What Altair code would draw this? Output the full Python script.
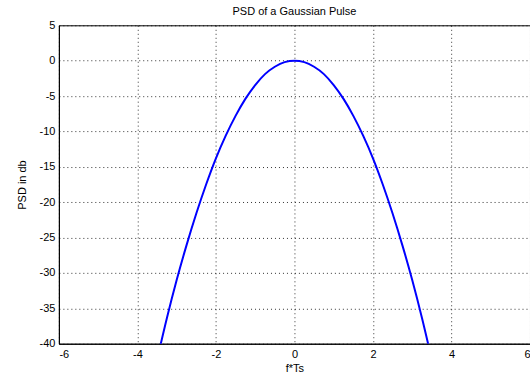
import altair as alt
import pandas as pd

f_ts = [-3.5, -3.25, -3.0, -2.75, -2.5, -2.25, -2.0, -1.75, -1.5, -1.25, -1.0, -0.75, -0.5, -0.25,
        0.0, 0.25, 0.5, 0.75, 1.0, 1.25, 1.5, 1.75, 2.0, 2.25, 2.5, 2.75, 3.0, 3.25, 3.5]
psd_db = [-42.3, -36.4, -31.0, -26.1, -21.6, -17.5, -13.8, -10.6, -7.8, -5.4, -3.45, -1.9, -0.86, -0.2,
          0.0, -0.2, -0.86, -1.9, -3.45, -5.4, -7.8, -10.6, -13.8, -17.5, -21.6, -26.1, -31.0, -36.4, -42.3]

df = pd.DataFrame({"f": f_ts, "psd": psd_db})

font = "Liberation Sans"

chart = alt.Chart(df).mark_line(color="#0000ff", strokeWidth=2, clip=True, interpolate="monotone").encode(
    x=alt.X("f:Q", scale=alt.Scale(domain=[-6, 6], nice=False, zero=False),
            axis=alt.Axis(title="f*Ts", values=[-6, -4, -2, 0, 2, 4, 6], labelExpr="'' + datum.value",
                          grid=True, gridColor="#000000", gridDash=[1, 3], gridOpacity=0.8,
                          ticks=False, domainColor="#000000", labelPadding=5,
                          labelFont=font, labelFontSize=11, labelColor="#000000",
                          titleFont=font, titleFontSize=11, titleFontWeight="normal",
                          titleColor="#000000", titlePadding=3)),
    y=alt.Y("psd:Q", scale=alt.Scale(domain=[-40, 5], nice=False, zero=False),
            axis=alt.Axis(title="PSD in db", values=list(range(-40, 6, 5)), labelExpr="'' + datum.value",
                          grid=True, gridColor="#000000", gridDash=[1, 3], gridOpacity=0.8,
                          ticks=False, domainColor="#000000", labelPadding=4,
                          labelFont=font, labelFontSize=11, labelColor="#000000",
                          titleFont=font, titleFontSize=11, titleFontWeight="normal",
                          titleColor="#000000", titlePadding=12)),
).properties(
    width=472, height=319,
    title=alt.TitleParams("PSD of a Gaussian Pulse", font=font, fontSize=11, fontWeight="normal",
                          color="#000000", offset=2),
    autosize=alt.AutoSizeParams(type="none"),
    padding={"left": 59, "top": 25, "right": 0, "bottom": 35},
).configure_view(stroke="#000000", strokeWidth=1)

chart.save("out.html", embed_options={"renderer": "svg", "actions": False})
